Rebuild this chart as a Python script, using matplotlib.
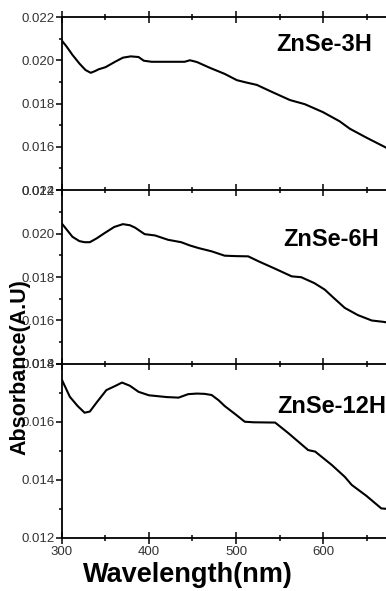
import matplotlib.pyplot as plt
from matplotlib.ticker import MultipleLocator, FixedLocator

# Dados (comprimento de onda em nm, absorbância)
wl_3h = [300, 305, 312, 320, 327, 333, 338, 342, 350, 361, 370, 379, 388, 394, 403, 420, 441, 447, 455,
         470, 487, 501, 512, 524, 540, 562, 579, 600, 619, 631, 650, 672, 675]
abs_3h = [0.02090, 0.02065, 0.02025, 0.01985, 0.01955, 0.01942, 0.01950, 0.01958, 0.01968, 0.01993, 0.02012,
          0.02018, 0.02015, 0.01998, 0.01993, 0.01993, 0.01993, 0.02000, 0.01992, 0.01965, 0.01937, 0.01908,
          0.01897, 0.01886, 0.01856, 0.01816, 0.01797, 0.01760, 0.01718, 0.01683, 0.01642, 0.01597, 0.01590]

wl_6h = [300, 305, 312, 320, 326, 332, 340, 349, 360, 370, 378, 384, 395, 407, 422, 437, 447, 457, 472,
         487, 500, 514, 526, 545, 564, 575, 590, 602, 612, 625, 640, 656, 669, 675]
abs_6h = [0.02045, 0.02020, 0.01985, 0.01965, 0.01960, 0.01960, 0.01978, 0.02002, 0.02030, 0.02043, 0.02038,
          0.02027, 0.01997, 0.01991, 0.01971, 0.01960, 0.01945, 0.01933, 0.01918, 0.01898, 0.01896, 0.01895,
          0.01872, 0.01838, 0.01803, 0.01799, 0.01772, 0.01742, 0.01705, 0.01658, 0.01625, 0.01600, 0.01594,
          0.01590]

wl_12h = [300, 302, 309, 318, 326, 332, 340, 351, 361, 369, 378, 388, 400, 407, 420, 434, 445, 455, 464,
          472, 480, 487, 500, 510, 520, 545, 560, 583, 591, 610, 625, 633, 650, 667, 675]
abs_12h = [0.01745, 0.01732, 0.01687, 0.01655, 0.01632, 0.01636, 0.01668, 0.01710, 0.01724, 0.01736, 0.01725,
           0.01704, 0.01692, 0.01690, 0.01686, 0.01684, 0.01696, 0.01698, 0.01697, 0.01693, 0.01675, 0.01655,
           0.01625, 0.01601, 0.01599, 0.01598, 0.01562, 0.01503, 0.01498, 0.01452, 0.01411, 0.01383, 0.01345,
           0.01302, 0.01300]

amostras = ['ZnSe-3H', 'ZnSe-6H', 'ZnSe-12H']
y_limites = [(0.014, 0.022), (0.014, 0.022), (0.012, 0.018)]
x_ticks = [300, 400, 500, 600]

plt.rcParams['font.family'] = ['Liberation Sans', 'DejaVu Sans']

fig = plt.figure(figsize=(3.86, 5.91), dpi=100)

# posições dos painéis (o eixo passa da borda direita, como no original recortado)
posicoes = [[0.1606, 0.6785, 0.9016, 0.2927],
            [0.1606, 0.3841, 0.9016, 0.2944],
            [0.1606, 0.0897, 0.9016, 0.2944]]
rotulo_xy = [(0.615, 0.844), (0.635, 0.718), (0.618, 0.753)]

series = [(wl_3h, abs_3h), (wl_6h, abs_6h), (wl_12h, abs_12h)]

for i, (wl, ab) in enumerate(series):
    ax = fig.add_axes(posicoes[i])
    ax.plot(wl, ab, color='black', lw=1.5)
    ax.set_xlim(300, 700)
    ax.set_ylim(*y_limites[i])
    ax.xaxis.set_major_locator(FixedLocator(x_ticks))
    ax.xaxis.set_minor_locator(MultipleLocator(50))
    ax.yaxis.set_major_locator(MultipleLocator(0.002))
    ax.yaxis.set_minor_locator(MultipleLocator(0.001))
    ax.yaxis.set_major_formatter(plt.FormatStrFormatter('%.3f'))

    for lado in ['top', 'left', 'bottom']:
        ax.spines[lado].set_linewidth(1.3)
    ax.spines['right'].set_visible(False)
    if i < 2:
        ax.spines['bottom'].set_visible(False)

    ultimo = (i == 2)
    ax.tick_params(axis='x', which='both', top=True, bottom=ultimo, labelbottom=ultimo,
                   direction='inout', width=1.1, labelsize=9.5, labelcolor='#333333', pad=1)
    ax.tick_params(axis='x', which='major', length=9)
    ax.tick_params(axis='x', which='minor', length=5)
    ax.tick_params(axis='y', which='both', direction='out', width=1.1, labelsize=9.5,
                   labelcolor='#333333', pad=1.5)
    ax.tick_params(axis='y', which='major', length=4)
    ax.tick_params(axis='y', which='minor', length=2.5)

    ax.text(rotulo_xy[i][0], rotulo_xy[i][1], amostras[i], transform=ax.transAxes,
            fontsize=17, fontweight='bold', ha='left', va='center')

fig.text(188 / 386, 0.015, 'Wavelength(nm)', fontsize=19.5, fontweight='bold',
         ha='center', va='baseline')
fig.text(20 / 386, 1 - 367 / 591, 'Absorbance(A.U)', fontsize=15.5, fontweight='bold',
         rotation=90, ha='center', va='center')

fig.savefig('out.png', dpi=100)
